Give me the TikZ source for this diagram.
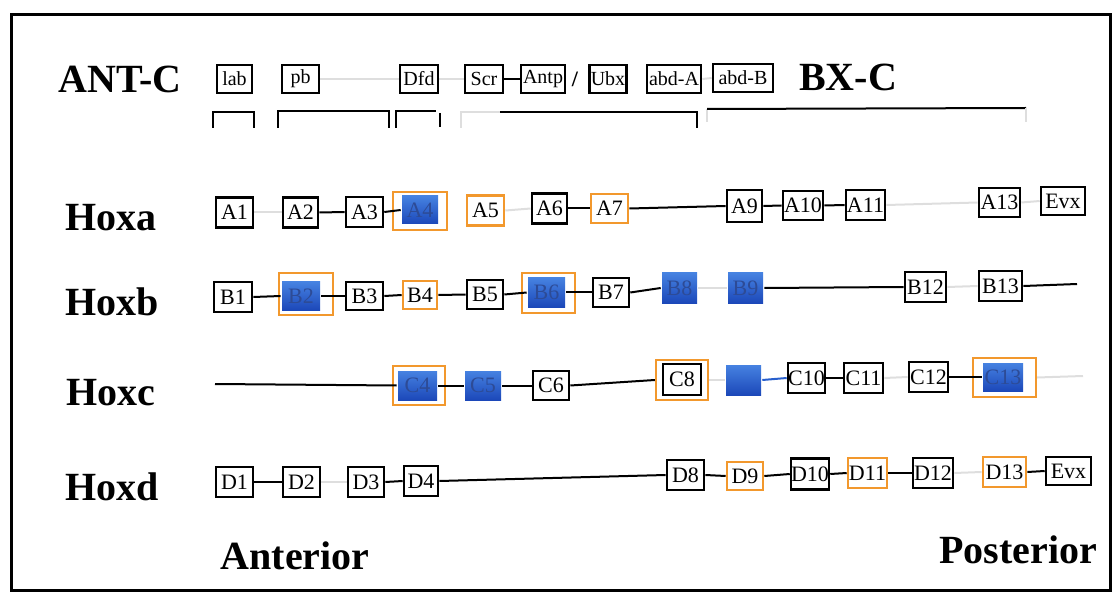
\documentclass[tikz,border=0pt]{standalone}
\usepackage{fontspec}
\setmainfont{Liberation Serif}
\definecolor{orng}{RGB}{242,152,45}
\definecolor{bluetop}{RGB}{70,130,225}
\definecolor{bluebot}{RGB}{28,72,185}
\definecolor{bluetxt}{RGB}{45,75,150}
\definecolor{bluelink}{RGB}{40,95,205}
\begin{document}
\begin{tikzpicture}[x=1pt,y=-1pt,
  gene/.style={draw=black, line width=2.6pt, fill=white, inner sep=0pt,
    minimum width=37pt, minimum height=30pt, font=\fontsize{22}{22}\selectfont},
  org/.style={gene, draw=orng},
  bluebox/.style={gene, draw=none, top color=bluetop, bottom color=bluebot, text=bluetxt},
  frameo/.style={draw=orng, line width=2.4pt, inner sep=0pt},
  hdr/.style={gene, font=\fontsize{20}{20}\selectfont, minimum height=28pt},
  link/.style={line width=2pt, black},
  faint/.style={line width=2pt, black!13},
  big/.style={font=\fontsize{40}{40}\selectfont\bfseries, inner sep=0pt},
  brk/.style={line width=2pt, black}
]
\useasboundingbox (0,0) rectangle (1117,596);
\draw[line width=3pt] (11,15) rectangle (1110,590);

% ---------- header row ----------
\node[big] (antc) at (120,79) {ANT-C};
\node[big] (bxc) at (848,77) {BX-C};
\node[hdr, minimum width=35pt] (lab) at (234.5,79) {lab};
\node[hdr, minimum width=37pt] (pb) at (300.5,79) {pb};
\node[hdr, minimum width=38pt] (dfd) at (419,79) {Dfd};
\node[hdr, minimum width=38pt] (scr) at (484,79) {Scr};
\node[hdr, minimum width=44pt] (antp) at (543,79) {Antp};
\node[font=\fontsize{22}{22}\selectfont\bfseries, inner sep=0pt] (sl) at (575,79) {/};
\node[hdr, minimum width=37pt] (ubx) at (608,79) {Ubx};
\node[hdr, minimum width=54pt] (abda) at (674,79) {abd-A};
\node[hdr, minimum width=60pt] (abdb) at (743,78) {abd-B};
\draw[faint] (pb.east) -- (dfd.west);
\draw[faint] (dfd.east) -- (scr.west);
\draw[link] (scr.east) -- (antp.west);
\draw[faint] (abda.east) -- (abdb.west);

% brackets
\draw[brk] (213,128) |- (254,112) -- (254,128);
\draw[brk] (278,128) |- (389,111) -- (389,128);
\draw[brk] (396,128) |- (436,111);
\draw[brk] (440,113) -- (440,127);
\draw[faint] (461,128) -- (461,112) -- (500,112);
\draw[brk] (500,112) -- (697,112) -- (697,128);
\draw[faint] (707,122) -- (707,109);
\draw[brk] (707,109) -- (1026,108);
\draw[faint] (1026,108) -- (1026,122);

% ---------- Hoxa ----------
\node[big] (hoxa) at (111,218) {Hoxa};
\node[gene] (A1) at (234.5,212.5) {A1};
\node[gene, minimum width=35pt] (A2) at (300.5,212.5) {A2};
\node[gene] (A3) at (364.5,212) {A3};
\node[frameo, minimum width=54pt, minimum height=38pt] (A4o) at (420,211) {};
\node[bluebox, minimum width=36pt, minimum height=28pt] (A4) at (420,210) {A4};
\node[org] (A5) at (485.5,210.5) {A5};
\node[gene, minimum width=35pt] (A6) at (549.5,208.5) {A6};
\node[org, minimum height=29pt] (A7) at (609.5,208.5) {A7};
\node[gene, minimum width=35pt, minimum height=32pt] (A9) at (744.5,206) {A9};
\node[gene, minimum width=40pt, minimum height=29pt] (A10) at (803,205.5) {A10};
\node[gene, minimum width=39pt] (A11) at (865.5,205) {A11};
\node[gene, minimum width=41pt, minimum height=29pt] (A13) at (999.5,202.5) {A13};
\node[gene, minimum width=44pt, minimum height=28pt] (EvxA) at (1063,201) {Evx};
\draw[faint] (A1.east) -- (A2.west);
\draw[link] (A2.east) -- (A3.west);
\draw[link] (A3.east) -- (A4.west);
\draw[faint] (A5.east) -- (A6.west);
\draw[link] (A6.east) -- (A7.west);
\draw[link] (A7.east) -- (A9.west);
\draw[link] (A9.east) -- (A10.west);
\draw[link] (A10.east) -- (A11.west);
\draw[faint] (A11.east) -- (A13.west);
\draw[faint] (A13.east) -- (EvxA.west);

% ---------- Hoxb ----------
\node[big] (hoxb) at (112,302) {Hoxb};
\node[gene, minimum width=38pt] (B1) at (233,297) {B1};
\node[frameo, minimum width=54pt, minimum height=42pt] (B2o) at (306,294) {};
\node[bluebox, minimum width=38pt, minimum height=28pt] (B2) at (301,296) {B2};
\node[gene, minimum height=28pt] (B3) at (364.5,296) {B3};
\node[org, minimum width=34pt, minimum height=28pt] (B4) at (420,295) {B4};
\node[gene, minimum width=36pt, minimum height=29pt] (B5) at (485,294.5) {B5};
\node[frameo, minimum width=53pt, minimum height=40pt] (B6o) at (548.5,293) {};
\node[bluebox, minimum width=37pt, minimum height=29pt] (B6) at (546.5,292.5) {B6};
\node[gene, minimum width=36pt, minimum height=29pt] (B7) at (611,292.5) {B7};
\node[bluebox, minimum width=35pt] (B8) at (679.5,288) {B8};
\node[bluebox, minimum width=35pt] (B9) at (745.5,288) {B9};
\node[gene, minimum width=41pt] (B12) at (925.5,287) {B12};
\node[gene, minimum width=43pt] (B13) at (1000.5,286) {B13};
\coordinate (Bend) at (1077,284);
\draw[link] (B1.east) -- (B2.west);
\draw[link] (B2.east) -- (B3.west);
\draw[link] (B3.east) -- (B4.west);
\draw[link] (B4.east) -- (B5.west);
\draw[link] (B5.east) -- (B6.west);
\draw[link] (B6.east) -- (B7.west);
\draw[link] (B7.east) -- (B8.west);
\draw[faint] (B8.east) -- (B9.west);
\draw[link] (B9.east) -- (B12.west);
\draw[faint] (B12.east) -- (B13.west);
\draw[link] (B13.east) -- (Bend);

% ---------- Hoxc ----------
\node[big] (hoxc) at (111,393) {Hoxc};
\coordinate (Cstart) at (215,384);
\node[frameo, minimum width=52pt, minimum height=39pt] (C4o) at (419,385.5) {};
\node[bluebox, minimum width=39pt, minimum height=29pt] (C4) at (417.5,385.5) {C4};
\node[bluebox, minimum width=36pt, minimum height=29pt] (C5) at (483,385.5) {C5};
\node[gene, minimum width=36pt, minimum height=29pt] (C6) at (551,385.5) {C6};
\node[frameo, minimum width=52pt, minimum height=40pt] (C8o) at (682,380) {};
\node[gene, minimum width=38pt, minimum height=31pt] (C8) at (682,379.5) {C8};
\node[bluebox, minimum width=35pt, minimum height=30pt] (C9) at (743.5,380) {};
\node[gene, minimum width=37pt] (C10) at (806.5,378) {C10};
\node[gene, minimum width=39pt] (C11) at (863.5,378) {C11};
\node[gene, minimum width=39pt] (C12) at (928.5,377) {C12};
\node[frameo, minimum width=63pt, minimum height=39pt] (C13o) at (1004.5,377.5) {};
\node[bluebox, minimum width=40pt, minimum height=28pt] (C13) at (1003,377) {C13};
\coordinate (Cend) at (1083,376);
\draw[link] (Cstart) -- (C4.west);
\draw[link] (C4.east) -- (C5.west);
\draw[link] (C5.east) -- (C6.west);
\draw[link] (C6.east) -- (C8o.west);
\draw[faint] (C8o.east) -- (C9.west);
\draw[line width=2pt, bluelink] (C9.east) -- (C10.west);
\draw[link] (C10.east) -- (C11.west);
\draw[faint] (C11.east) -- (C12.west);
\draw[link] (C12.east) -- (C13.west);
\draw[faint] (C13o.east) -- (Cend);

% ---------- Hoxd ----------
\node[big] (hoxd) at (112,487) {Hoxd};
\node[gene] (D1) at (234.5,482) {D1};
\node[gene] (D2) at (301.5,482) {D2};
\node[gene, minimum width=36pt] (D3) at (366,482) {D3};
\node[gene, minimum width=34pt] (D4) at (421,481) {D4};
\node[gene] (D8) at (685.5,475) {D8};
\node[org, minimum width=36pt, minimum height=28pt] (D9) at (745,476) {D9};
\node[gene, minimum width=36pt, minimum height=31pt] (D10) at (810,474) {D10};
\node[org, minimum width=39pt] (D11) at (867.5,473) {D11};
\node[gene, minimum width=40pt] (D12) at (933,473) {D12};
\node[org, minimum width=43pt] (D13) at (1004.5,472) {D13};
\node[gene, minimum width=45pt, minimum height=28pt] (EvxD) at (1068.5,471) {Evx};
\draw[link] (D1.east) -- (D2.west);
\draw[faint] (D2.east) -- (D3.west);
\draw[link] (D3.east) -- (D4.west);
\draw[link] (D4.east) -- (D8.west);
\draw[link] (D8.east) -- (D9.west);
\draw[link] (D9.east) -- (D10.west);
\draw[link] (D10.east) -- (D11.west);
\draw[link] (D11.east) -- (D12.west);
\draw[faint] (D12.east) -- (D13.west);
\draw[link] (D13.east) -- (EvxD.west);

% ---------- axis labels ----------
\node[big] (ant) at (295,556) {Anterior};
\node[big] (post) at (1018,550) {Posterior};
\end{tikzpicture}
\end{document}
